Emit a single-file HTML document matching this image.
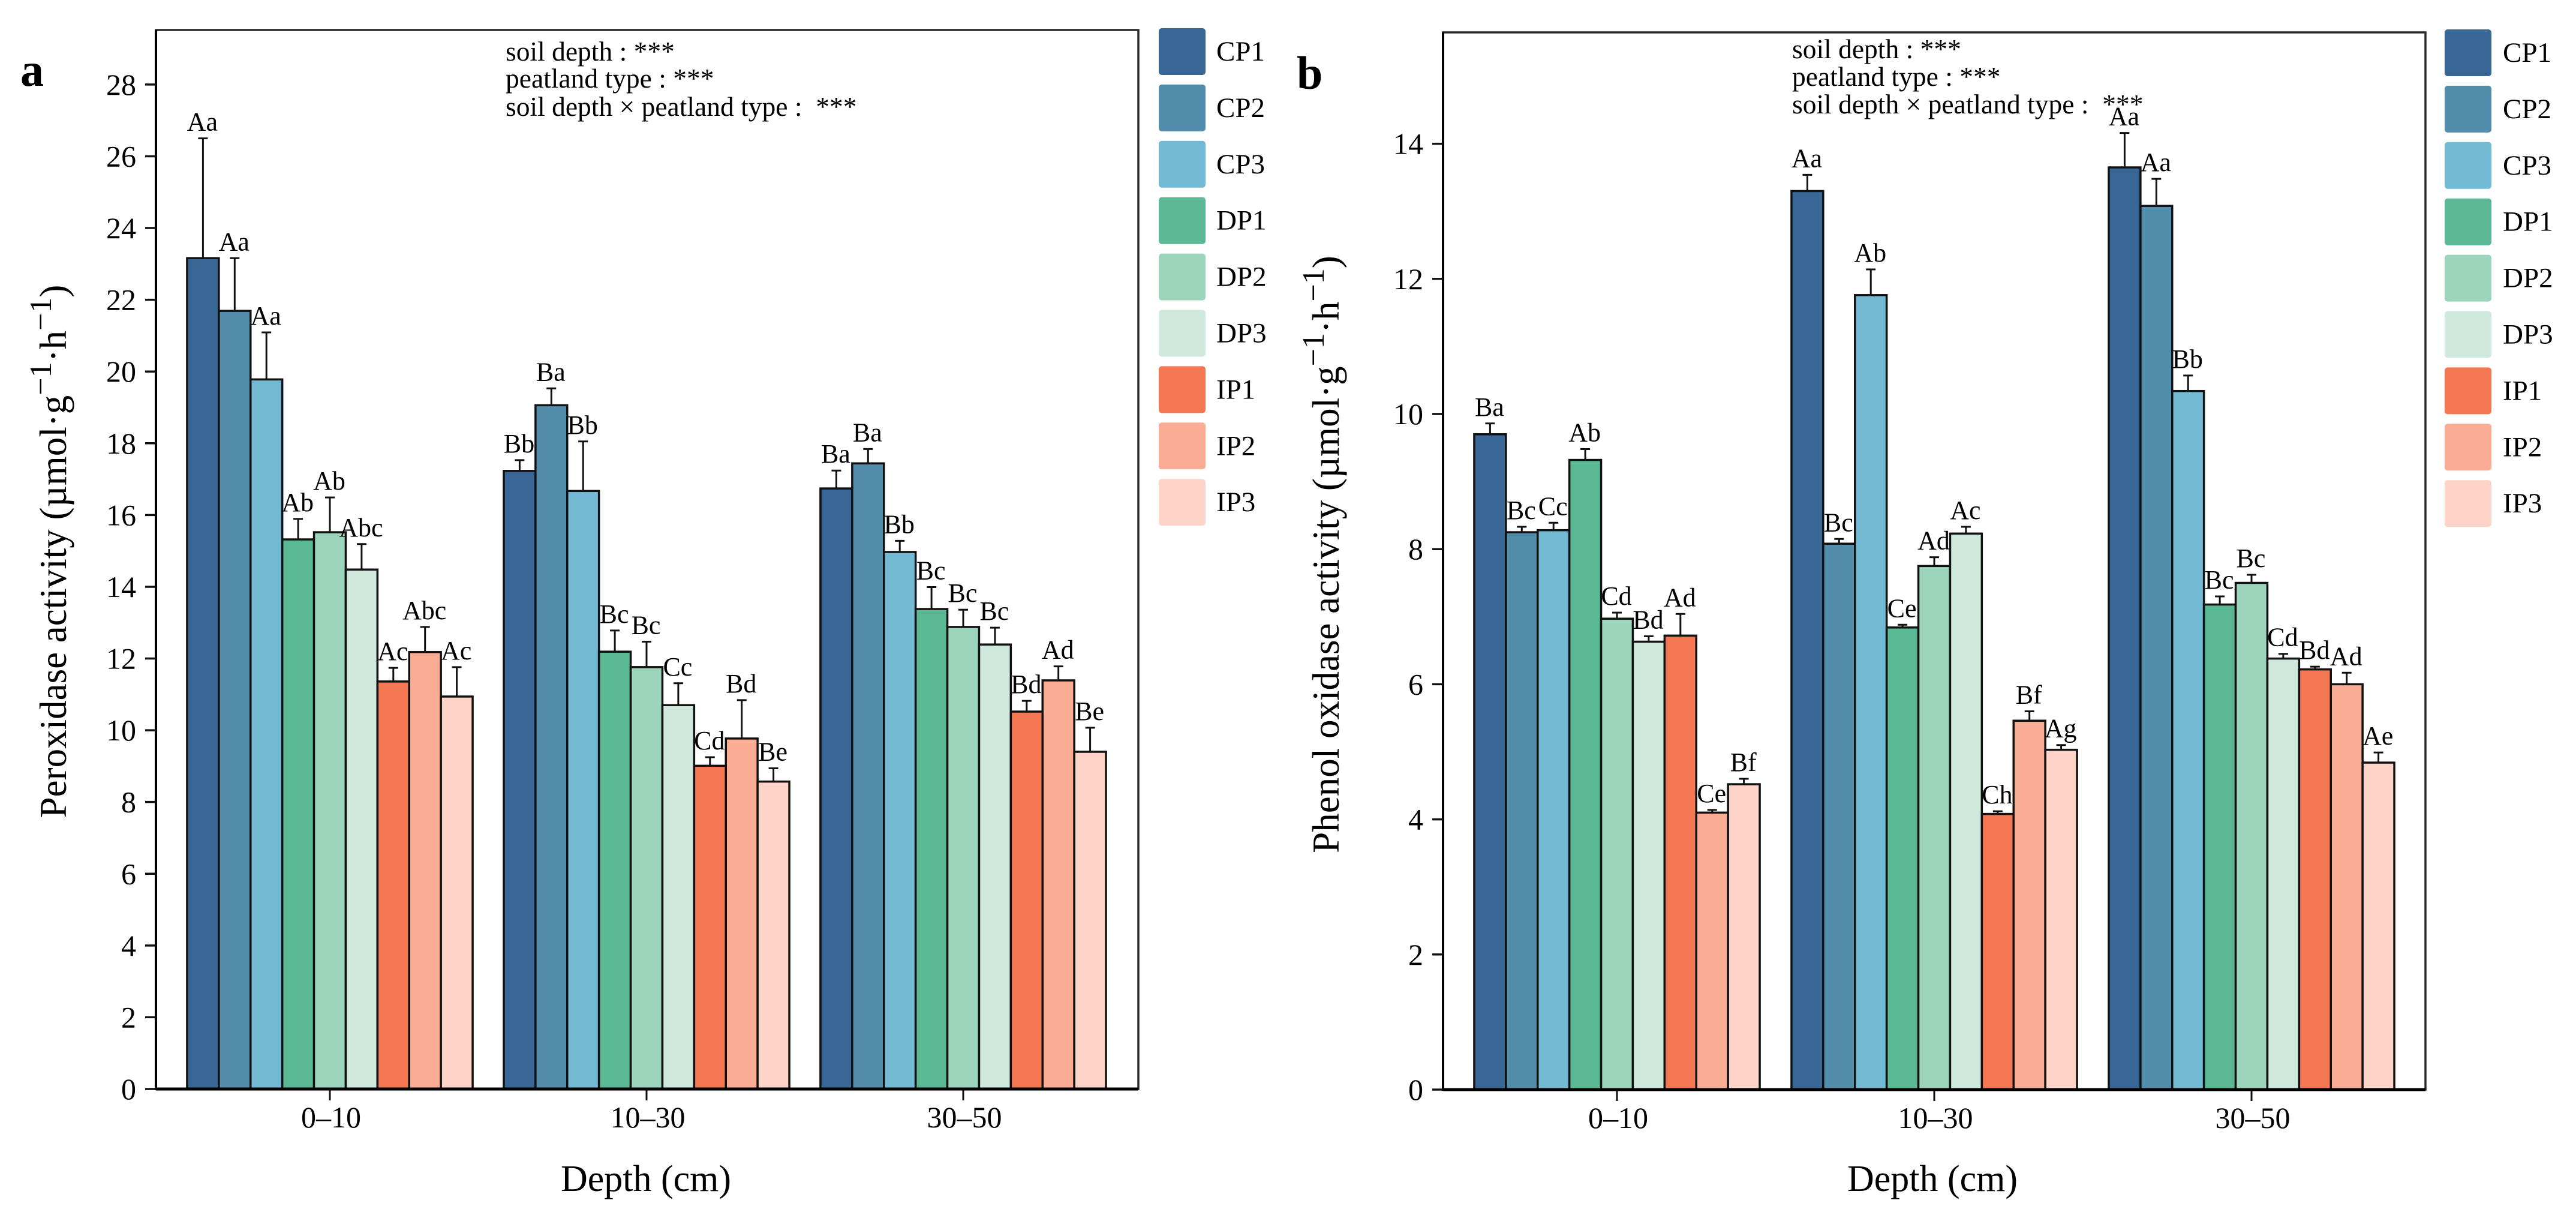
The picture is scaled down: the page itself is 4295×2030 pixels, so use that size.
<!DOCTYPE html>
<html lang="en">
<head>
<meta charset="utf-8">
<title>Peroxidase and phenol oxidase activity by depth</title>
<style>
html,body{margin:0;padding:0;background:#fff;}
svg{display:block;}
text{font-family:"Liberation Serif","Times New Roman",serif;fill:#000;}
</style>
</head>
<body>
<svg id="chart" xmlns="http://www.w3.org/2000/svg" width="4295" height="2030" viewBox="0 0 4295 2030">
  <rect x="0" y="0" width="4295" height="2030" fill="#ffffff"/>

  <text x="34" y="143" font-size="78" font-weight="bold">a</text>
  <text x="2162" y="148" font-size="78" font-weight="bold">b</text>

  <g font-size="45.5">
    <text x="843" y="101">soil depth : ***</text>
    <text x="843" y="146">peatland type : ***</text>
    <text x="843" y="193" xml:space="preserve">soil depth × peatland type :  ***</text>
  </g>
  <g font-size="45.5">
    <text x="2988" y="97">soil depth : ***</text>
    <text x="2988" y="143">peatland type : ***</text>
    <text x="2988" y="189" xml:space="preserve">soil depth × peatland type :  ***</text>
  </g>

  <text x="1077" y="1985" font-size="62" text-anchor="middle">Depth (cm)</text>
  <text x="3222" y="1985" font-size="62" text-anchor="middle">Depth (cm)</text>

  <text transform="translate(110,919) rotate(-90)" font-size="63" text-anchor="middle">Peroxidase activity (µmol·g<tspan dy="-25" font-size="52">−1</tspan><tspan dy="25">·h</tspan><tspan dy="-25" font-size="52">−1</tspan><tspan dy="25">)</tspan></text>
  <text transform="translate(2232,924) rotate(-90)" font-size="63" text-anchor="middle">Phenol oxidase activity (µmol·g<tspan dy="-25" font-size="52">−1</tspan><tspan dy="25">·h</tspan><tspan dy="-25" font-size="52">−1</tspan><tspan dy="25">)</tspan></text>
</svg>

<script>
const depthCategories = ['0–10', '10–30', '30–50'];
const seriesNames = ['CP1', 'CP2', 'CP3', 'DP1', 'DP2', 'DP3', 'IP1', 'IP2', 'IP3'];
const seriesColors = ['#386795', '#528DAC', '#73BAD5', '#5AB994', '#9CD5BC', '#CFEADD', '#F27752', '#FBAC95', '#FDD4C7'];

const peroxidaseTicks = [0, 2, 4, 6, 8, 10, 12, 14, 16, 18, 20, 22, 24, 26, 28];
const peroxidaseDepth0to10 = [23.16, 21.69, 19.78, 15.32, 15.52, 14.48, 11.36, 12.18, 10.94];
const peroxidaseDepth10to30 = [17.23, 19.06, 16.67, 12.19, 11.76, 10.70, 9.01, 9.77, 8.57];
const peroxidaseDepth30to50 = [16.74, 17.44, 14.97, 13.38, 12.88, 12.39, 10.52, 11.39, 9.40];
const peroxidaseError0to10 = [3.34, 1.47, 1.31, 0.57, 0.97, 0.71, 0.38, 0.70, 0.82];
const peroxidaseError10to30 = [0.30, 0.47, 1.38, 0.59, 0.71, 0.61, 0.24, 1.07, 0.37];
const peroxidaseError30to50 = [0.50, 0.40, 0.31, 0.61, 0.48, 0.47, 0.30, 0.39, 0.67];
const peroxidaseLetters0to10 = ['Aa', 'Aa', 'Aa', 'Ab', 'Ab', 'Abc', 'Ac', 'Abc', 'Ac'];
const peroxidaseLetters10to30 = ['Bb', 'Ba', 'Bb', 'Bc', 'Bc', 'Cc', 'Cd', 'Bd', 'Be'];
const peroxidaseLetters30to50 = ['Ba', 'Ba', 'Bb', 'Bc', 'Bc', 'Bc', 'Bd', 'Ad', 'Be'];

const phenolTicks = [0, 2, 4, 6, 8, 10, 12, 14];
const phenolDepth0to10 = [9.70, 8.25, 8.28, 9.32, 6.97, 6.63, 6.72, 4.10, 4.52];
const phenolDepth10to30 = [13.30, 8.08, 11.76, 6.84, 7.75, 8.23, 4.08, 5.46, 5.03];
const phenolDepth30to50 = [13.65, 13.08, 10.34, 7.18, 7.50, 6.38, 6.22, 6.00, 4.84];
const phenolError0to10 = [0.16, 0.08, 0.11, 0.16, 0.09, 0.08, 0.32, 0.04, 0.08];
const phenolError10to30 = [0.24, 0.07, 0.38, 0.04, 0.13, 0.10, 0.04, 0.14, 0.07];
const phenolError30to50 = [0.51, 0.40, 0.23, 0.12, 0.12, 0.07, 0.04, 0.17, 0.15];
const phenolLetters0to10 = ['Ba', 'Bc', 'Cc', 'Ab', 'Cd', 'Bd', 'Ad', 'Ce', 'Bf'];
const phenolLetters10to30 = ['Aa', 'Bc', 'Ab', 'Ce', 'Ad', 'Ac', 'Ch', 'Bf', 'Ag'];
const phenolLetters30to50 = ['Aa', 'Aa', 'Bb', 'Bc', 'Bc', 'Cd', 'Bd', 'Ad', 'Ae'];

const SVG_NS = 'http://www.w3.org/2000/svg';
const root = document.getElementById('chart');

function make(tag, attrs, parent) {
  const el = document.createElementNS(SVG_NS, tag);
  Object.keys(attrs).forEach(function (k) { el.setAttribute(k, attrs[k]); });
  parent.appendChild(el);
  return el;
}

function drawPanel(p) {
  const yScale = function (v) { return p.y0 - p.unit * v; };
  const xBand = function (g, i) { return p.cx0 + p.step * g - p.barW * 4.5 + p.barW * i; };

  const panel = make('g', {}, root);
  
  

  const frame = make('rect', { x: p.left, y: p.top, width: p.right - p.left, height: p.y0 - p.top, fill: 'none', stroke: '#2a2a2a', 'stroke-width': 3.5 }, panel);
  
  

  p.means.forEach(function (groupMeans, g) {
    groupMeans.forEach(function (mean, i) {
      const key = p.id + '-' + depthCategories[g] + '-' + seriesNames[i];
      const x = xBand(g, i);
      const cx = x + p.barW / 2;
      const errTop = yScale(mean + p.errors[g][i]);

      const whisker = make('line', { x1: cx, x2: cx, y1: yScale(mean), y2: errTop, stroke: '#111', 'stroke-width': 3 }, panel);
      
      

      const cap = make('line', { x1: cx - 8, x2: cx + 8, y1: errTop, y2: errTop, stroke: '#111', 'stroke-width': 3 }, panel);
      
      

      const bar = make('rect', { x: x, y: yScale(mean), width: p.barW, height: p.y0 - yScale(mean), fill: seriesColors[i], stroke: '#111', 'stroke-width': 3.5 }, panel);
      
      

      const label = make('text', { x: cx - 1, y: errTop - 13, 'font-size': 44, 'text-anchor': 'middle' }, panel);
      
      
      label.textContent = p.letters[g][i];
    });
  });

  const yAxis = make('line', { x1: p.left, x2: p.left, y1: p.top, y2: p.y0 + 2, stroke: '#000', 'stroke-width': 4 }, panel);
  
  

  const xAxis = make('line', { x1: p.left, x2: p.right, y1: p.y0, y2: p.y0, stroke: '#000', 'stroke-width': 5 }, panel);
  
  

  p.ticks.forEach(function (t) {
    const y = yScale(t);
    const tick = make('line', { x1: p.left - 18, x2: p.left, y1: y, y2: y, stroke: '#111', 'stroke-width': 3.5 }, panel);
    
    

    const tickText = make('text', { x: p.left - 33, y: y + 17, 'font-size': 50, 'text-anchor': 'end' }, panel);
    
    
    tickText.textContent = t;
  });

  depthCategories.forEach(function (cat, g) {
    const cx = p.cx0 + p.step * g;
    const tick = make('line', { x1: cx, x2: cx, y1: p.y0, y2: p.y0 + 19, stroke: '#111', 'stroke-width': 3 }, panel);
    
    

    const tickText = make('text', { x: cx + 2, y: p.y0 + 64, 'font-size': 50, 'text-anchor': 'middle' }, panel);
    
    
    tickText.textContent = cat;
  });

  const legend = make('g', {}, root);
  
  
  seriesNames.forEach(function (name, i) {
    const y = p.legendY + 93.9 * i;
    const swatch = make('rect', { x: p.legendX, y: y, width: 78, height: 78, rx: 5, ry: 5, fill: seriesColors[i] }, legend);
    
    

    const entry = make('text', { x: p.legendTextX, y: y + 54, 'font-size': 47 }, legend);
    
    
    entry.textContent = name;
  });
}

drawPanel({
  id: 'a', left: 260, right: 1898, top: 50, y0: 1815, unit: 59.79,
  cx0: 550, step: 528, barW: 52.9,
  legendX: 1932, legendY: 47, legendTextX: 2028,
  ticks: peroxidaseTicks,
  means: [peroxidaseDepth0to10, peroxidaseDepth10to30, peroxidaseDepth30to50],
  errors: [peroxidaseError0to10, peroxidaseError10to30, peroxidaseError30to50],
  letters: [peroxidaseLetters0to10, peroxidaseLetters10to30, peroxidaseLetters30to50]
});

drawPanel({
  id: 'b', left: 2406, right: 4044, top: 54, y0: 1816, unit: 112.6,
  cx0: 2696, step: 529, barW: 52.9,
  legendX: 4076, legendY: 49, legendTextX: 4173,
  ticks: phenolTicks,
  means: [phenolDepth0to10, phenolDepth10to30, phenolDepth30to50],
  errors: [phenolError0to10, phenolError10to30, phenolError30to50],
  letters: [phenolLetters0to10, phenolLetters10to30, phenolLetters30to50]
});
</script>
</body>
</html>
